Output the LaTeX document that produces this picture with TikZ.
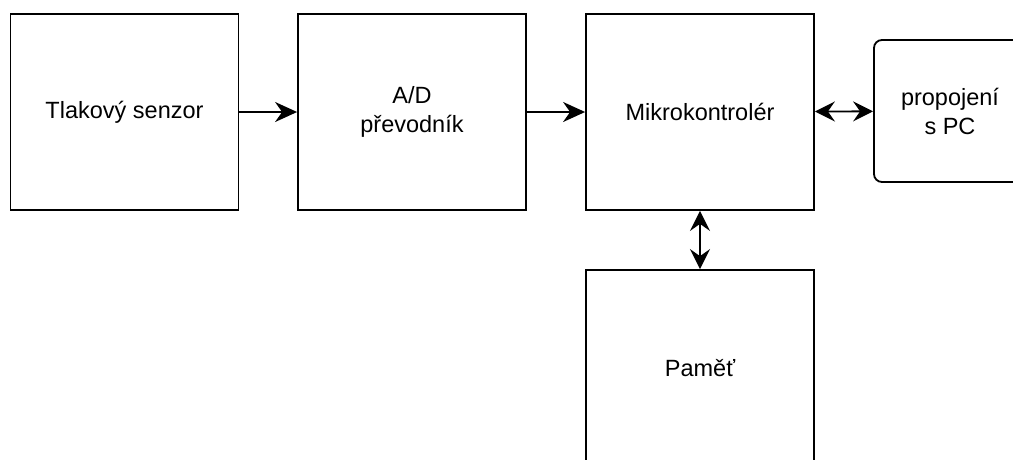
\documentclass[tikz,border=0pt]{standalone}
\usepackage{fontspec}
\setmainfont{Liberation Sans}
\usetikzlibrary{arrows.meta}
\begin{document}
\begin{tikzpicture}[x=1pt,y=-1pt,
  blockbox/.style={draw=black, line width=1.8pt, fill=white, inner sep=0pt,
    minimum width=228pt, minimum height=196pt, align=center,
    font=\fontsize{23.5pt}{29pt}\selectfont},
  linkbox/.style={blockbox, rounded corners=8pt, minimum width=152pt, minimum height=142pt},
  conn/.style={line width=1.8pt, -{Stealth[length=22pt,width=20pt,inset=7pt]}},
  biconn/.style={line width=1.8pt, {Stealth[length=20pt,width=20pt,inset=7pt]}-{Stealth[length=20pt,width=20pt,inset=7pt]}}]
\useasboundingbox (0,0) rectangle (1013,459);
\clip (0,0) rectangle (1013,459);
\node[blockbox] (ts) at (124.5,112) {Tlakový senzor};
\node[blockbox] (ad) at (412,112) {A/D\\převodník};
\node[blockbox] (mc) at (700,112) {Mikrokontrolér};
\node[linkbox] (pc) at (950,111) {propojení\\s PC};
\node[blockbox] (pm) at (700,368) {Paměť};
\draw[conn] (ts) -- (ad);
\draw[conn] (ad) -- (mc);
\draw[biconn] (mc) -- (pc);
\draw[biconn] (mc) -- (pm);
\end{tikzpicture}
\end{document}
